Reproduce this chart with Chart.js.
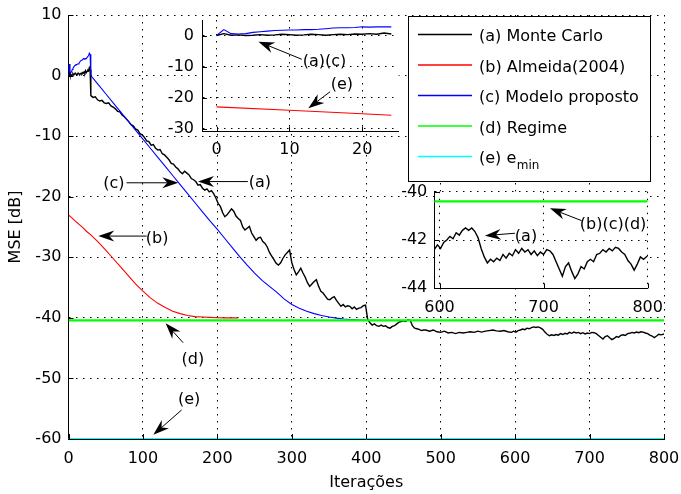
<!DOCTYPE html>
<html>
<head>
<meta charset="utf-8">
<script src="https://cdn.jsdelivr.net/npm/chart.js@4/dist/chart.umd.min.js"></script>
<style>
  html, body { margin: 0; padding: 0; background: #fff; }
  #wrap { position: relative; width: 681px; height: 494px; }
  canvas { position: absolute; }
</style>
</head>
<body>
<div id="wrap">
  <canvas id="main" width="681" height="494" style="left:0;top:0"></canvas>
  <canvas id="insetStart" width="245" height="155" style="left:160px;top:8px"></canvas>
  <canvas id="insetEnd" width="270" height="140" style="left:395px;top:180px"></canvas>
</div>
<script>
// ---- (a) Monte Carlo: MSE in dB per iteration ----
const mcIter = [
  0,1,2,3,4,5,6,7,8,9,10,11,12,13,14,15,16,17,18,19,20,21,22,23,24,25,26,27,28,29,
  30,33,36,39,42,45,48,51,54,57,
  60,63,66,69,72,75,78,81,84,87,
  90,93,96,99,102,105,108,111,114,117,
  120,123,126,129,132,135,138,141,144,147,
  150,153,156,159,162,165,168,171,174,177,
  180,183,186,189,192,195,198,201,204,207,
  210,213,216,219,222,225,228,231,234,237,
  240,243,246,249,252,255,258,261,264,267,
  270,273,276,279,282,285,288,291,294,297,
  300,303,306,309,312,315,318,321,324,327,
  330,333,336,339,342,345,348,351,354,357,
  360,363,366,369,372,375,378,381,384,387,
  390,393,396,399,402,
  405,408,411,414,417,420,423,426,429,432,
  435,438,441,444,447,450,453,456,459,462,
  465,468,471,474,477,
  480,485,490,495,500,505,510,515,520,525,
  530,535,540,545,550,555,560,565,570,575,
  580,585,590,
  595,598,601,604,607,610,613,616,619,622,
  625,628,631,634,637,640,643,646,649,652,
  655,658,661,664,667,670,673,676,679,682,
  685,688,691,694,697,700,703,706,709,712,
  715,718,721,724,727,730,733,736,739,742,
  745,748,751,754,757,760,763,766,769,772,
  775,778,781,784,787,790,793,796,800
];
const mcMSE = [
  0.0,0.6,0.1,0.2,0.0,0.1,0.3,0.1,0.2,0.4,0.3,0.1,0.2,0.4,0.3,0.1,0.3,0.4,0.3,0.5,0.4,0.6,0.4,0.8,0.5,0.7,0.9,0.8,1.3,1.0,
  -3.3,-3.6,-3.5,-4.0,-4.2,-4.1,-4.5,-4.6,-4.5,-5.0,
  -5.2,-5.5,-5.9,-6.0,-6.5,-6.8,-7.2,-7.6,-8.1,-8.3,
  -8.8,-9.0,-9.6,-9.8,-10.2,-10.8,-10.9,-11.5,-11.4,-12.0,
  -12.3,-12.2,-12.9,-13.1,-13.5,-13.9,-14.5,-14.6,-15.1,-15.4,
  -15.9,-16.2,-15.8,-16.1,-16.4,-17.0,-17.2,-17.5,-18.1,-18.0,
  -18.6,-18.9,-18.7,-19.2,-19.0,-19.5,-20.2,-21.1,-21.6,-22.6,
  -23.3,-23.0,-22.5,-22.0,-22.4,-23.2,-23.6,-23.9,-25.0,-25.5,
  -25.2,-24.9,-26.0,-26.6,-27.2,-26.8,-26.7,-27.4,-27.7,-28.3,
  -29.2,-29.8,-30.4,-31.0,-31.3,-30.9,-30.2,-29.6,-29.2,-28.8,
  -30.9,-32.0,-32.9,-32.4,-31.8,-32.6,-33.3,-34.2,-34.8,-34.4,
  -34.0,-33.7,-34.8,-35.6,-35.9,-36.4,-36.9,-37.0,-36.7,-36.5,
  -37.1,-37.6,-38.1,-37.8,-38.2,-38.0,-38.1,-38.5,-38.2,-38.6,
  -38.4,-38.3,-38.0,-37.9,-40.3,
  -40.8,-41.2,-41.0,-41.3,-41.4,-41.2,-41.4,-41.3,-41.6,-41.7,
  -41.4,-41.3,-41.0,-40.7,-40.6,-40.5,-40.6,-40.3,-40.4,-41.3,
  -41.7,-41.8,-41.9,-42.1,-42.0,
  -42.0,-42.2,-42.0,-42.3,-42.4,-42.2,-42.5,-42.4,-42.6,-42.4,
  -42.5,-42.4,-42.3,-42.4,-42.2,-42.35,-42.2,-42.1,-42.0,-42.15,
  -42.2,-42.1,-42.3,
  -42.4,-42.2,-42.35,-42.1,-42.0,-41.85,-41.95,-41.7,-41.8,-41.6,
  -41.5,-41.6,-41.5,-41.65,-41.9,-42.35,-42.7,-42.95,-42.8,-42.9,
  -42.75,-42.85,-42.6,-42.75,-42.55,-42.65,-42.4,-42.55,-42.35,-42.5,
  -42.4,-42.6,-42.45,-42.65,-42.5,-42.6,-42.4,-42.45,-42.6,-42.9,
  -43.2,-43.5,-43.1,-42.95,-43.3,-43.6,-43.4,-43.1,-43.2,-42.9,
  -42.8,-42.9,-42.6,-42.55,-42.4,-42.5,-42.35,-42.45,-42.3,-42.35,
  -42.5,-42.6,-42.85,-43.0,-43.25,-43.0,-42.7,-42.8,-42.65
];

// ---- (b) Almeida(2004) ----
const almeidaIter = [0,10,20,24,30,40,50,60,70,80,90,100,110,120,130,140,150,160,170,180,190,200,210,220,228];
const almeidaMSE  = [-23.0,-24.1,-25.2,-25.7,-26.3,-27.5,-28.8,-30.2,-31.6,-33.0,-34.4,-35.6,-36.7,-37.6,-38.3,-38.9,-39.3,-39.6,-39.8,-39.85,-39.92,-39.97,-40.0,-40.0,-40.0];

// ---- (c) Modelo proposto ----
const modelIter = [
  0,1,2,3,4,5,6,7,8,9,10,11,12,13,14,15,16,17,18,19,20,21,22,23,24,25,26,27,28,29,
  30,40,50,60,70,80,90,100,110,120,130,140,150,160,170,180,190,200,210,220,230,240,
  250,260,270,280,290,300,310,320,330,340,350,360,370,380,390,400
];
const modelMSE = [
  0.0,1.9,0.6,0.5,0.6,1.0,1.2,1.4,1.6,1.7,1.8,1.8,1.9,1.9,2.0,2.2,2.4,2.5,2.5,2.6,2.8,2.7,2.8,2.8,2.8,3.0,3.0,3.3,3.7,3.5,
  0.0,-1.5,-3.0,-4.5,-6.0,-7.5,-9.0,-10.5,-12.0,-13.5,-15.0,-16.5,-18.0,-19.5,-21.0,-22.5,-24.0,-25.4,-26.9,-28.4,-29.9,-31.3,
  -32.6,-33.8,-34.8,-35.8,-36.9,-37.8,-38.4,-38.9,-39.3,-39.6,-39.85,-40.05,-40.2,-40.3,-40.35,-40.4
];

// ---- (d) Regime and (e) e_min ----
const regimeIter = [0, 800];
const regimeMSE  = [-40.4, -40.4];
const eminIter = [0, 800];
const eminMSE  = [-60, -60];

// ---- tick labels ----
const mainXTicks = [0,100,200,300,400,500,600,700,800];
const mainYTicks = [10,0,-10,-20,-30,-40,-50,-60];
const startXTicks = [0,10,20];
const startYTicks = [0,-10,-20,-30];
const endXTicks = [600,700,800];
const endYTicks = [-40,-42,-44];

const FONT = 'DejaVu Sans';
Chart.defaults.font.family = FONT;
Chart.defaults.font.size = 16;
Chart.defaults.color = '#000';

const seriesDefs = [
  { label: '(a) Monte Carlo',     sub: '',    xs: mcIter,      ys: mcMSE,      color: '#000000', width: 1.4, order: 5 },
  { label: '(b) Almeida(2004)',   sub: '',    xs: almeidaIter, ys: almeidaMSE, color: '#ff0000', width: 1.1, order: 4 },
  { label: '(c) Modelo proposto', sub: '',    xs: modelIter,   ys: modelMSE,   color: '#0000ff', width: 1.1, order: 3 },
  { label: '(d) Regime',          sub: '',    xs: regimeIter,  ys: regimeMSE,  color: '#00ff00', width: 2.2, order: 2 },
  { label: '(e) e',               sub: 'min', xs: eminIter,    ys: eminMSE,    color: '#00ffff', width: 2.2, order: 1 }
];

// one dataset per series; optional upper iteration limit for the early-iterations view
function makeDatasets(lastIter) {
  return seriesDefs.map(s => ({
    label: s.label + s.sub,
    data: s.xs.map((x, i) => ({ x: x, y: s.ys[i] }))
              .filter(p => lastIter === undefined || p.x <= lastIter),
    borderColor: s.color,
    backgroundColor: s.color,
    borderWidth: s.width,
    pointRadius: 0,
    tension: 0,
    fill: false,
    order: s.order
  }));
}

const GRID = { color: '#000', lineWidth: 1, drawTicks: false };
const BORDER = { display: true, color: '#000', width: 1, dash: [1.5, 5.5] };

function xAxis(min, max, ticks, height, pad, title) {
  return {
    type: 'linear', min: min, max: max,
    afterBuildTicks: s => { s.ticks = ticks.map(v => ({ value: v })); },
    afterFit: s => { s.height = height; s.paddingLeft = 0; s.paddingRight = 0; },
    grid: GRID, border: BORDER,
    ticks: { padding: pad, maxRotation: 0, autoSkip: false, callback: v => String(v) },
    title: title || { display: false }
  };
}
function yAxis(min, max, ticks, width, pad, title) {
  return {
    type: 'linear', min: min, max: max,
    afterBuildTicks: s => { s.ticks = ticks.map(v => ({ value: v })); },
    afterFit: s => { s.width = width; s.paddingTop = 0; s.paddingBottom = 0; },
    grid: GRID, border: BORDER,
    ticks: { padding: pad, autoSkip: false, callback: v => String(v) },
    title: title || { display: false }
  };
}

// short tick marks drawn inside the axes box
const innerTicks = {
  id: 'innerTicks',
  afterDatasetsDraw(chart) {
    const { ctx, chartArea: a, scales } = chart;
    ctx.save();
    ctx.strokeStyle = '#000';
    ctx.lineWidth = 1;
    ctx.beginPath();
    scales.x.ticks.forEach(t => {
      const px = Math.round(scales.x.getPixelForValue(t.value)) + 0.5;
      ctx.moveTo(px, a.bottom); ctx.lineTo(px, a.bottom - 5);
    });
    scales.y.ticks.forEach(t => {
      const py = Math.round(scales.y.getPixelForValue(t.value)) + 0.5;
      ctx.moveTo(a.left, py); ctx.lineTo(a.left + 5, py);
    });
    ctx.stroke();
    ctx.restore();
  }
};

// white axes background for the zoomed views
const axesBackground = {
  id: 'axesBackground',
  beforeDraw(chart) {
    const { ctx, chartArea: a } = chart;
    ctx.save();
    ctx.fillStyle = '#fff';
    ctx.fillRect(a.left, a.top, a.right - a.left, a.bottom - a.top);
    ctx.restore();
  }
};

function drawArrow(ctx, x1, y1, x2, y2) {
  const L = 16, W = 5.5, N = 5;
  const dx = x2 - x1, dy = y2 - y1;
  const len = Math.hypot(dx, dy);
  const ux = dx / len, uy = dy / len;
  const px = -uy, py = ux;
  const bx = x2 - ux * L, by = y2 - uy * L;
  const nx = x2 - ux * (L - N), ny = y2 - uy * (L - N);
  ctx.beginPath();
  ctx.moveTo(x1, y1); ctx.lineTo(nx, ny);
  ctx.stroke();
  ctx.beginPath();
  ctx.moveTo(x2, y2);
  ctx.lineTo(bx + px * W, by + py * W);
  ctx.lineTo(nx, ny);
  ctx.lineTo(bx - px * W, by - py * W);
  ctx.closePath();
  ctx.fill();
}

// text + arrow callouts, placed in data coordinates of each axes
function callouts(list) {
  return {
    id: 'callouts',
    afterDraw(chart) {
      const { ctx, scales: { x, y } } = chart;
      ctx.save();
      ctx.strokeStyle = '#000';
      ctx.fillStyle = '#000';
      ctx.lineWidth = 1;
      ctx.font = '16px "' + FONT + '"';
      ctx.textAlign = 'center';
      ctx.textBaseline = 'middle';
      list.forEach(c => {
        drawArrow(ctx, x.getPixelForValue(c.from[0]), y.getPixelForValue(c.from[1]),
                       x.getPixelForValue(c.to[0]), y.getPixelForValue(c.to[1]));
        ctx.fillText(c.text, x.getPixelForValue(c.at[0]), y.getPixelForValue(c.at[1]));
      });
      ctx.restore();
    }
  };
}

// boxed legend in the upper right
const boxLegend = {
  id: 'boxLegend',
  afterDraw(chart) {
    const { ctx } = chart;
    const bx = 408.5, by = 16.5, bw = 242, bh = 165;
    ctx.save();
    ctx.fillStyle = '#fff';
    ctx.fillRect(bx, by, bw, bh);
    ctx.strokeStyle = '#000';
    ctx.lineWidth = 1;
    ctx.strokeRect(bx, by, bw, bh);
    seriesDefs.forEach((s, i) => {
      const ly = 34.5 + i * 30.5;
      ctx.strokeStyle = s.color;
      ctx.lineWidth = 1.5;
      ctx.beginPath();
      ctx.moveTo(418, ly); ctx.lineTo(472, ly);
      ctx.stroke();
      ctx.fillStyle = '#000';
      ctx.textAlign = 'left';
      ctx.textBaseline = 'middle';
      ctx.font = '16px "' + FONT + '"';
      const ty = ly + 2.5;
      ctx.fillText(s.label, 479, ty);
      if (s.sub) {
        const w = ctx.measureText(s.label).width;
        ctx.font = '12px "' + FONT + '"';
        ctx.fillText(s.sub, 479 + w + 0.5, ty + 7);
      }
    });
    ctx.restore();
  }
};

new Chart(document.getElementById('main'), {
  type: 'line',
  data: { datasets: makeDatasets() },
  options: {
    responsive: false, animation: false, devicePixelRatio: 1,
    layout: { padding: { left: 0, top: 15, right: 17, bottom: 0 } },
    plugins: { legend: { display: false }, tooltip: { enabled: false } },
    scales: {
      x: xAxis(0, 800, mainXTicks, 55, 10, { display: true, text: 'Iterações', padding: { top: 0, bottom: 2 } }),
      y: yAxis(-60, 10, mainYTicks, 68.5, 7, { display: true, text: 'MSE [dB]', padding: { top: 6, bottom: 0 } })
    }
  },
  plugins: [innerTicks, boxLegend, callouts([
    { text: '(c)', at: [61, -17.9],  from: [78, -17.7],  to: [147.5, -17.7] },
    { text: '(a)', at: [257, -17.7], from: [241, -17.5], to: [174, -17.5] },
    { text: '(b)', at: [119, -27.0], from: [105, -26.5], to: [40, -26.5] },
    { text: '(d)', at: [167, -46.9], from: [154, -44.1], to: [130.5, -40.9] },
    { text: '(e)', at: [162, -53.5], from: [152, -55.2], to: [114, -59.3] }
  ])]
});

new Chart(document.getElementById('insetStart'), {
  type: 'line',
  data: { datasets: makeDatasets(24) },
  options: {
    responsive: false, animation: false, devicePixelRatio: 1,
    layout: { padding: { left: 0, top: 12, right: 6.4, bottom: 0 } },
    plugins: { legend: { display: false }, tooltip: { enabled: false } },
    scales: {
      x: xAxis(-2, 25, startXTicks, 31.3, 9),
      y: yAxis(-31, 5, startYTicks, 42, 8)
    }
  },
  plugins: [axesBackground, innerTicks, callouts([
    { text: '(a)(c)', at: [14.83, -8.4], from: [11.7, -7.65], to: [5.75, -1.97] },
    { text: '(e)',    at: [17.2, -15.9], from: [15.6, -18.1], to: [12.6, -23.45] }
  ])]
});

new Chart(document.getElementById('insetEnd'), {
  type: 'line',
  data: { datasets: makeDatasets() },
  options: {
    responsive: false, animation: false, devicePixelRatio: 1,
    layout: { padding: { left: 0, top: 11.7, right: 17.3, bottom: 0 } },
    plugins: { legend: { display: false }, tooltip: { enabled: false } },
    scales: {
      x: xAxis(595, 800, endXTicks, 31.7, 10),
      y: yAxis(-44, -40, endYTicks, 39.3, 7)
    }
  },
  plugins: [axesBackground, innerTicks, callouts([
    { text: '(a)',       at: [683.1, -41.86], from: [672.5, -41.72], to: [643.6, -41.82] },
    { text: '(b)(c)(d)', at: [766.7, -41.38], from: [736.6, -41.2],  to: [706.1, -40.69] }
  ])]
});
</script>
</body>
</html>
